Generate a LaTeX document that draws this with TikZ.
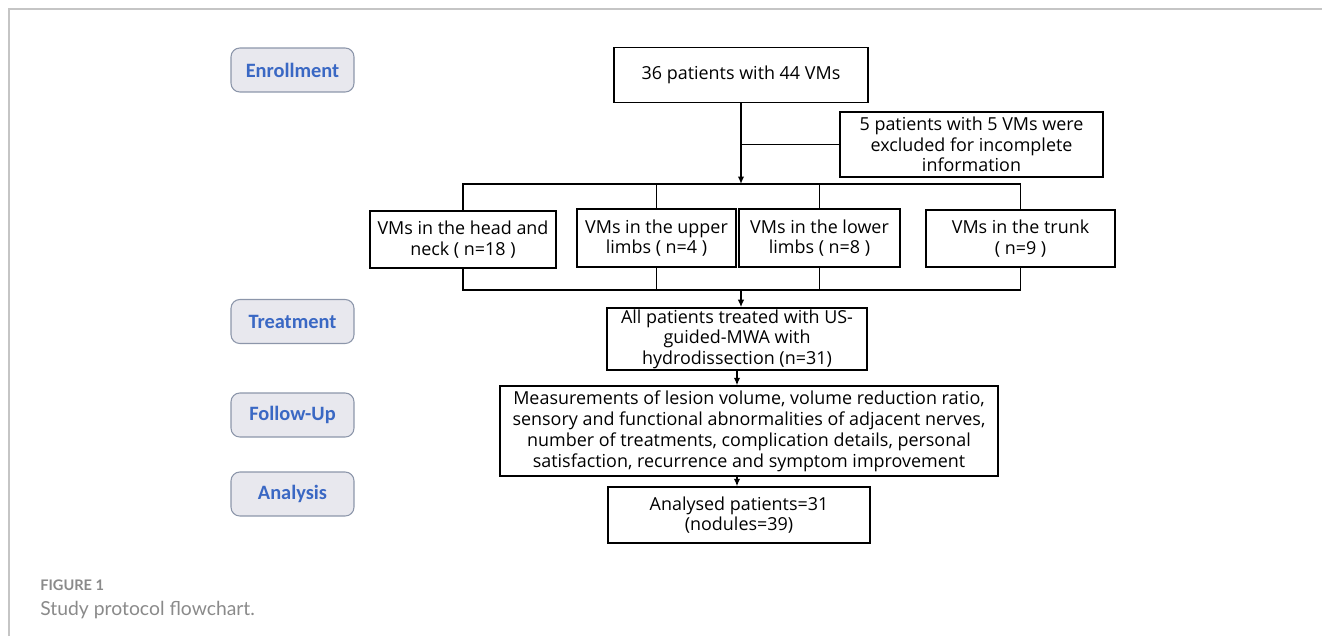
\documentclass[tikz,border=0pt]{standalone}
\usepackage{fontspec}
\setmainfont{Open Sans}
\newfontfamily\stagefont{Carlito}
\newfontfamily\capfont{Lato}
\usepackage{tikz}
\usetikzlibrary{arrows.meta, positioning}
\usepackage{xcolor}
\definecolor{stageblue}{HTML}{3A68C4}
\definecolor{stagefill}{HTML}{E8E8EE}
\definecolor{stageline}{HTML}{8C96AA}
\definecolor{capgray}{HTML}{8A8A8A}

\begin{document}
\begin{tikzpicture}[
		x=0.02cm, y=-0.02cm,
		box/.style={draw, line width=0.8pt, rectangle, align=center, inner sep=1pt, font=\fontsize{10.2}{11.6}\selectfont},
		stage/.style={draw=stageline, fill=stagefill, line width=0.6pt, rounded corners=5pt, minimum width=2.46cm, minimum height=0.88cm, text=stageblue, font=\stagefont\bfseries\fontsize{11.6}{13}\selectfont},
		link/.style={line width=0.8pt},
		arrow/.style={-{Latex[length=1.5mm, width=1.3mm]}, line width=0.8pt}
		]
		\useasboundingbox (0,0) rectangle (1322,636);
		\draw[capgray!50, line width=0.6pt] (9,636) -- (9,9) -- (1322,9);
		
		% Stages
		\node[stage] (enrollment) at (292.5,70) {Enrollment};
		\node[stage] (treatment) at (292.5,321.5) {Treatment};
		\node[stage] (followup) at (292.5,415) {Follow-Up};
		\node[stage] (analysis) at (292.5,494) {Analysis};
		
		% Nodes
		\node[box, minimum width=5.08cm, minimum height=1.10cm] (total) at (741,75) {36 patients with 44 VMs};
		\node[box, minimum width=5.26cm, minimum height=1.30cm] (excluded) at (971.5,144.5) {5 patients with 5 VMs were\\ excluded for incomplete\\ information};
		\node[box, minimum width=3.72cm, minimum height=1.14cm] (head) at (463,239.5) {VMs in the head and\\ neck ( n=18 )};
		\node[box, minimum width=3.18cm, minimum height=1.16cm] (upper) at (656.5,238) {VMs in the upper\\ limbs ( n=4 )};
		\node[box, minimum width=3.22cm, minimum height=1.16cm] (lower) at (819.5,238) {VMs in the lower\\ limbs ( n=8 )};
		\node[box, minimum width=3.78cm, minimum height=1.14cm] (trunk) at (1020.5,238.5) {VMs in the trunk\\ ( n=9 )};
		\node[box, minimum width=5.20cm, minimum height=1.20cm] (mwa) at (737,339) {All patients treated with US-\\ guided-MWA with\\ hydrodissection (n=31)};
		\node[box, minimum width=9.96cm, minimum height=1.80cm, font=\fontsize{10.2}{11.9}\selectfont] (measures) at (749,431) {Measurements of lesion volume, volume reduction ratio,\\ sensory and functional abnormalities of adjacent nerves,\\ number of treatments, complication details, personal\\ satisfaction, recurrence and symptom improvement};
		\node[box, minimum width=5.24cm, minimum height=1.12cm] (analysed) at (739,515) {Analysed patients=31\\ (nodules=39)};
		
		\coordinate (split) at (741,184);
		\coordinate (merge) at (741,290);
		
		% Arrows
		\draw[arrow] (total.south) -- (split);
		\draw[link] (total.south |- excluded.west) -- (excluded.west);
		\draw[link] (head.north) |- (split) -| (trunk.north);
		\draw[link] (upper.north) -- (upper.north |- split);
		\draw[link] (lower.north) -- (lower.north |- split);
		\draw[link] (head.south) |- (merge) -| (trunk.south);
		\draw[link] (upper.south) -- (upper.south |- merge);
		\draw[link] (lower.south) -- (lower.south |- merge);
		\draw[arrow] (merge) -- (merge |- mwa.north);
		\draw[arrow] (mwa.south) -- (mwa.south |- measures.north);
		\draw[arrow] (mwa.south |- measures.south) -- (mwa.south |- analysed.north);
		
		% Caption
		\node[anchor=base west, inner sep=0pt, text=capgray, font=\capfont\bfseries\fontsize{8.3}{10}\selectfont] (figlabel) at (40,590) {FIGURE 1};
		\node[anchor=base west, inner sep=0pt, text=capgray, font=\capfont\fontsize{11}{13}\selectfont] (figcaption) at (40,615) {Study protocol flowchart.};
	\end{tikzpicture}
\end{document}
